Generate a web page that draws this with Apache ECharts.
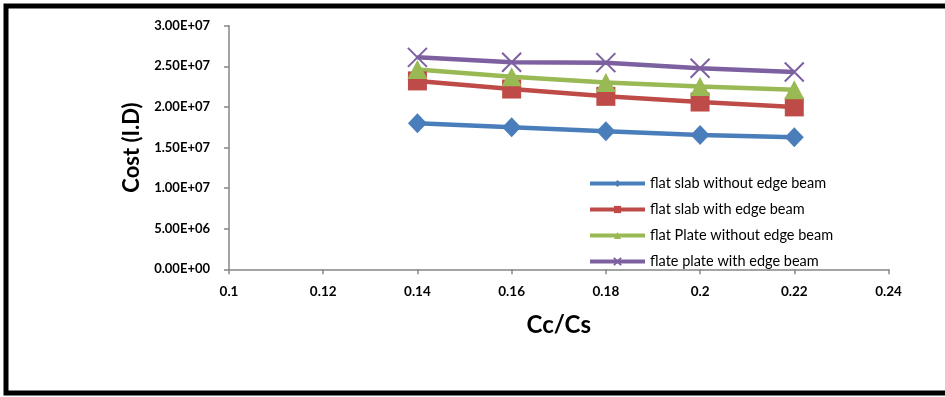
<!DOCTYPE html>
<html>
<head>
<meta charset="utf-8">
<script src="https://cdn.jsdelivr.net/npm/echarts@6/dist/echarts.min.js"></script>
<style>
  html, body { margin: 0; padding: 0; background: #fff; }
  #chart { width: 945px; height: 397px; }
</style>
</head>
<body>
<div id="chart"></div>
<script>
// Cc/Cs ratios on the x axis
const ratios = [0.14, 0.16, 0.18, 0.20, 0.22];

// Cost (I.D) for each slab system
const flatSlabNoBeam   = [1.80e7, 1.75e7, 1.70e7, 1.655e7, 1.625e7];
const flatSlabBeam     = [2.32e7, 2.22e7, 2.13e7, 2.06e7, 2.00e7];
const flatPlateNoBeam  = [2.46e7, 2.37e7, 2.30e7, 2.25e7, 2.21e7];
const flatPlateBeam    = [2.61e7, 2.55e7, 2.545e7, 2.475e7, 2.43e7];

const seriesNames = [
  'flat slab without edge beam',
  'flat slab with edge beam',
  'flat Plate without edge beam',
  'flate plate with edge beam'
];

const xTicks = { min: 0.1, max: 0.24, step: 0.02 };
const yTicks = { min: 0, max: 3.0e7, step: 5.0e6 };

function sci(v) {
  if (v === 0) return '0.00E+00';
  const e = Math.floor(Math.log10(Math.abs(v)) + 1e-9);
  const m = v / Math.pow(10, e);
  return m.toFixed(2) + 'E' + (e < 0 ? '-' : '+') + String(Math.abs(e)).padStart(2, '0');
}

const pairs = arr => ratios.map((x, i) => [x, arr[i]]);

const colors = ['#4a7ebb', '#be4b48', '#98b954', '#7d60a0'];
const font = 'Lato, "Open Sans", sans-serif';
const crossPath = 'path://M0,0L10,10M10,0L0,10';

const chart = echarts.init(document.getElementById('chart'), null, { renderer: 'canvas' });

function lineSeries(name, data, color, symbol, size, extraItem) {
  return {
    name: name,
    type: 'line',
    data: pairs(data),
    symbol: symbol,
    symbolSize: size,
    showAllSymbol: true,
    lineStyle: { color: color, width: 4.5 },
    itemStyle: Object.assign({ color: color }, extraItem || {}),
    emphasis: { disabled: true },
    animation: false,
    z: 3
  };
}

chart.setOption({
  animation: false,
  backgroundColor: '#ffffff',
  color: colors,
  graphic: [{
    type: 'rect',
    shape: { x: 6, y: 6, width: 1000, height: 387 },
    style: { fill: 'none', stroke: '#000', lineWidth: 5 },
    z: 0
  }],
  grid: { left: 229, right: 56.5, top: 25.7, bottom: 127.7, containLabel: false },
  xAxis: {
    type: 'value',
    min: xTicks.min,
    max: xTicks.max,
    interval: xTicks.step,
    name: 'Cc/Cs',
    nameLocation: 'middle',
    nameGap: 44,
    nameTextStyle: { fontFamily: font, fontWeight: 'bold', fontSize: 24, color: '#000' },
    axisLine: { lineStyle: { color: '#868686', width: 1.5 } },
    axisTick: { show: true, length: 5, lineStyle: { color: '#868686', width: 1.5 } },
    axisLabel: {
      margin: 15,
      fontFamily: font, fontWeight: 'bold', fontSize: 13.5, color: '#000',
      formatter: v => String(parseFloat(v.toFixed(2)))
    },
    splitLine: { show: false }
  },
  yAxis: {
    type: 'value',
    min: yTicks.min,
    max: yTicks.max,
    interval: yTicks.step,
    name: 'Cost (I.D)',
    nameLocation: 'middle',
    nameRotate: 90,
    nameGap: 84,
    nameTextStyle: { fontFamily: font, fontWeight: 'bold', fontSize: 22, color: '#000' },
    axisLine: { show: true, lineStyle: { color: '#868686', width: 1.5 } },
    axisTick: { show: true, length: 5, lineStyle: { color: '#868686', width: 1.5 } },
    axisLabel: {
      margin: 19,
      fontFamily: font, fontWeight: 'bold', fontSize: 13, color: '#000',
      formatter: sci
    },
    splitLine: { show: false }
  },
  legend: {
    orient: 'vertical',
    left: 583,
    top: 171,
    itemWidth: 55,
    itemHeight: 9,
    itemGap: 11,
    lineStyle: { width: 4 },
    textStyle: { fontFamily: font, fontSize: 14.5, color: '#000' },
    data: seriesNames
  },
  series: [
    lineSeries(seriesNames[0], flatSlabNoBeam, colors[0], 'diamond', [19, 20]),
    lineSeries(seriesNames[1], flatSlabBeam, colors[1], 'rect', 19),
    lineSeries(seriesNames[2], flatPlateNoBeam, colors[2], 'triangle', [20, 19]),
    lineSeries(seriesNames[3], flatPlateBeam, colors[3], crossPath, 19,
      { color: 'rgba(0,0,0,0)', borderColor: colors[3], borderWidth: 2 })
  ]
});
</script>
</body>
</html>
